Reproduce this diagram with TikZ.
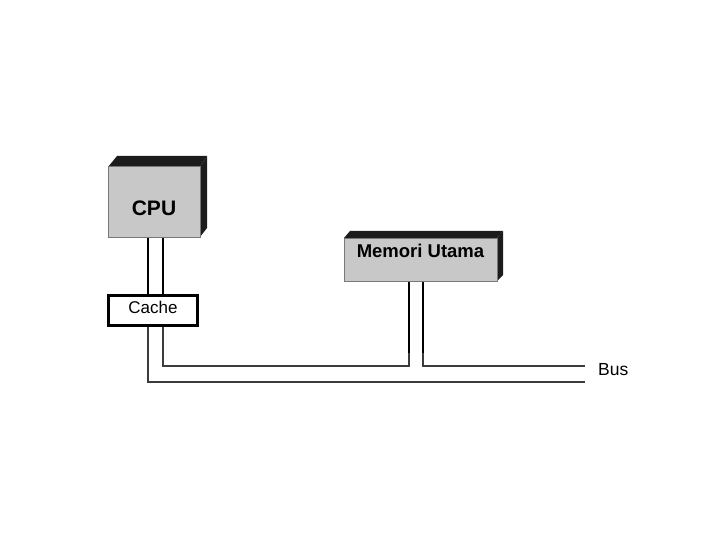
\documentclass[tikz,border=0pt]{standalone}
\usepackage{fontspec}
\setmainfont{Liberation Sans}
\usetikzlibrary{backgrounds,calc}
\definecolor{facegray}{RGB}{200,200,200}
\definecolor{shadedark}{RGB}{28,28,28}
\definecolor{edgegray}{RGB}{120,120,120}
\definecolor{busgray}{RGB}{60,60,60}
\tikzset{
  face/.style={draw=edgegray, line width=1pt, fill=facegray, inner sep=0pt, outer sep=0pt},
  cachebox/.style={draw=black, line width=3pt, fill=white, inner sep=0pt, outer sep=0pt},
  pipe/.style={draw=black, line width=1.2pt, double=white, double distance=13.8pt},
  busline/.style={draw=busgray, line width=1.1pt},
  memline/.style={draw=black, line width=2pt},
  shade3d/.style={fill=shadedark},
  lbl/.style={inner sep=0pt}
}
\begin{document}
\begin{tikzpicture}[x=1pt,y=-1pt]
\useasboundingbox (0,0) rectangle (720,540);
% boxes
\node[face, minimum width=92pt, minimum height=70pt, text height=26pt, text depth=0pt,
      font=\bfseries\fontsize{21}{21}\selectfont] (cpu) at (154,202) {CPU};
\node[face, minimum width=153pt, minimum height=43pt, text height=14pt, text depth=19pt,
      font=\bfseries\fontsize{18.5}{18.5}\selectfont] (mem) at (420.5,259.5) {Memori Utama};
\node[cachebox, minimum width=89pt, minimum height=30pt, text height=12pt, text depth=7pt,
      font=\fontsize{17}{17}\selectfont] (cache) at (153,310.5) {Cache};
\node[lbl, anchor=base west, font=\fontsize{17.5}{17.5}\selectfont] (bus) at (598,375) {Bus};
% coordinates of the bus ends
\coordinate (busA) at (585,366);
\coordinate (busB) at (585,382);
\begin{scope}[on background layer]
  % 3D shading
  \fill[shade3d] (cpu.north west) -- ++(9,-11) -- ([shift={(7,-11)}]cpu.north east) -- (cpu.north east) -- cycle;
  \fill[shade3d] (cpu.north east) -- ([shift={(7,-11)}]cpu.north east) -- ([shift={(7,-9)}]cpu.south east) -- (cpu.south east) -- cycle;
  \fill[shade3d] (mem.north west) -- ++(6,-7) -- ([shift={(6,-7)}]mem.north east) -- (mem.north east) -- cycle;
  \fill[shade3d] (mem.north east) -- ([shift={(6,-7)}]mem.north east) -- ([shift={(6,-6)}]mem.south east) -- (mem.south east) -- cycle;
  % pipe CPU - cache
  \draw[pipe] ([xshift=1.5pt]cpu.south) -- ([xshift=1.5pt]cpu.south |- cache.north);
  % bus lines
  \draw[busline] ([xshift=-5pt]cache.south) |- (busB);
  \draw[busline] ([xshift=10pt]cache.south) |- ([xshift=-11.5pt]mem.south |- busA) -- ([xshift=-11.5pt]mem.south);
  \draw[busline] ([xshift=2.5pt]mem.south) |- (busA);
  % memory pipe (thicker)
  \draw[memline] ([xshift=-11.5pt]mem.south) -- ([xshift=-11.5pt,yshift=-72pt]mem.south);
  \draw[memline] ([xshift=2.5pt]mem.south) -- ([xshift=2.5pt,yshift=-72pt]mem.south);
\end{scope}
\end{tikzpicture}
\end{document}
